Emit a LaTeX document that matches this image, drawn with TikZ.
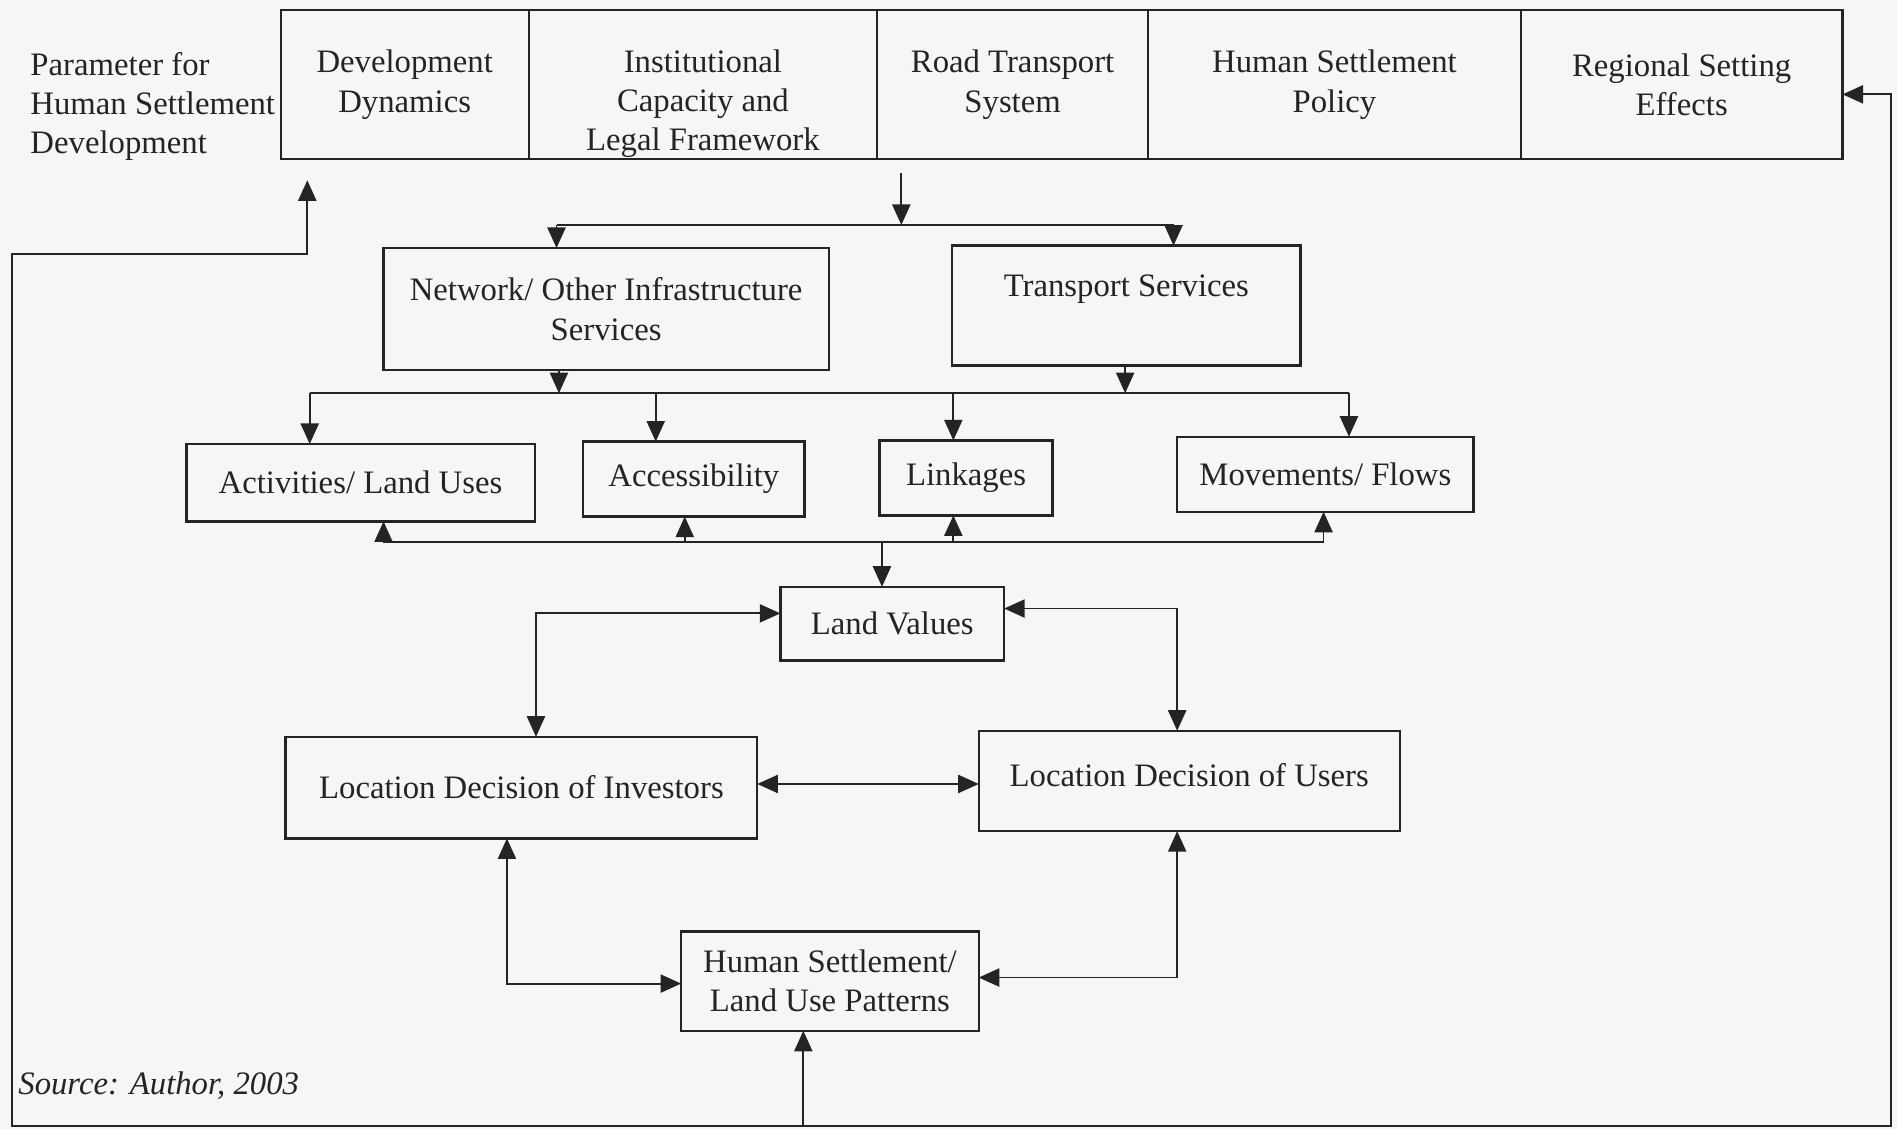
\documentclass[tikz,border=0pt]{standalone}
\usepackage{fontspec}
\setmainfont{Liberation Serif}
\usepackage{tikz}
\usetikzlibrary{arrows.meta}
\definecolor{cInk}{RGB}{36,36,36}
\definecolor{cPaper}{RGB}{246,246,246}

\begin{document}
\begin{tikzpicture}[x=0.02cm,y=-0.02cm,
  every node/.style={font=\fontsize{15.4}{18.4}\selectfont,text=cInk},
  box/.style={draw=cInk,line width=1.1pt,align=center,inner sep=0pt,outer sep=0pt},
  wire/.style={draw=cInk,line width=0.85pt},
  arr/.style={wire,-{Triangle[length=0.34cm,width=0.3cm]}},
  dbl/.style={wire,{Triangle[length=0.34cm,width=0.3cm]}-{Triangle[length=0.34cm,width=0.3cm]}}]
\fill[cPaper] (0,0) rectangle (1568,933);
\useasboundingbox (0,0) rectangle (1568,933);
% parameter row
\node[anchor=west,align=left] (par) at (19,88) {Parameter for\\Human Settlement\\Development};
\node[box,minimum width=4.10cm,minimum height=2.46cm] (dyn) at (334.5,70) {Development\\Dynamics};
\node[box,minimum width=5.76cm,minimum height=2.46cm,
  label={[align=center,yshift=-0.32cm]center:Institutional\\Capacity and\\Legal Framework}] (inst) at (581,70) {};
\node[box,minimum width=4.48cm,minimum height=2.46cm] (road) at (837,70) {Road Transport\\System};
\node[box,minimum width=6.16cm,minimum height=2.46cm] (pol) at (1103,70) {Human Settlement\\Policy};
\node[box,minimum width=5.32cm,minimum height=2.46cm] (reg) at (1390,70) {Regional Setting\\Effects};
% services
\node[box,minimum width=7.36cm,minimum height=2.02cm] (net) at (501,255.5) {Network/ Other Infrastructure\\Services};
\node[box,minimum width=5.76cm,minimum height=1.98cm] (trans) at (931,252.5) {Transport Services\\\mbox{}};
% effects
\node[box,minimum width=5.76cm,minimum height=1.28cm] (act) at (298,399) {Activities/ Land Uses};
\node[box,minimum width=3.66cm,minimum height=1.24cm] (acc) at (573.5,396) {Accessibility};
\node[box,minimum width=2.86cm,minimum height=1.24cm] (lnk) at (798.5,395) {Linkages};
\node[box,minimum width=4.90cm,minimum height=1.24cm] (mov) at (1095.5,392) {Movements/ Flows};
% land market
\node[box,minimum width=3.70cm,minimum height=1.22cm] (lv) at (737.5,515.5) {Land Values};
\node[box,minimum width=7.80cm,minimum height=1.68cm] (inv) at (431,651) {Location Decision of Investors};
\node[box,minimum width=6.96cm,minimum height=1.66cm] (usr) at (983,645.5) {Location Decision of Users\\[-13pt]\mbox{}};
\node[box,minimum width=4.92cm,minimum height=1.64cm] (hs) at (686,811) {Human Settlement/\\Land Use Patterns};
\node[anchor=west,font=\fontsize{15.4}{18.4}\selectfont\itshape] (src) at (9,897) {Source: Author, 2003};
% first bus
\coordinate (t1) at (745,143);
\coordinate (b1) at (745,186);
\coordinate (b1l) at (460,186);
\coordinate (b1r) at (970,186);
\draw[arr] (t1) -- (b1);
\draw[wire] (b1l) -- (b1r);
\draw[arr] (b1l) -- (b1l |- net.north);
\draw[arr] (b1r) -- (b1r |- trans.north);
% second bus
\coordinate (n2) at (462,325);
\coordinate (s2) at (930,325);
\coordinate (b2l) at (256,325);
\coordinate (b2r) at (1115,325);
\draw[arr] (n2 |- net.south) -- (n2);
\draw[arr] (s2 |- trans.south) -- (s2);
\draw[wire] (b2l) -- (b2r);
\foreach \x/\n in {256/act,542/acc,788/lnk,1115/mov}
  \draw[arr] (\x,325) -- (\x,325 |- \n.north);
% third bus
\coordinate (b3) at (729,448);
\coordinate (b3l) at (317,448);
\coordinate (b3r) at (1094,448);
\draw[wire] (b3l) -- (b3r);
\foreach \x/\n in {317/act,566/acc,788/lnk,1094/mov}
  \draw[arr] (\x,448) -- (\x,448 |- \n.south);
\draw[arr] (b3) -- (b3 |- lv.north);
% land values and decisions
\coordinate (c1) at (443,507);
\coordinate (c2) at (973,503);
\coordinate (c3) at (700,648);
\coordinate (c4) at (419,813);
\coordinate (c5) at (973,808);
\draw[dbl] (lv.west |- c1) -- (c1) -- (c1 |- inv.north);
\draw[dbl] (lv.east |- c2) -- (c2) -- (c2 |- usr.north);
\draw[dbl] (inv.east |- c3) -- (usr.west |- c3);
\draw[dbl] (c4 |- inv.south) -- (c4) -- (hs.west |- c4);
\draw[dbl] (c5 |- usr.south) -- (c5) -- (hs.east |- c5);
% feedback loop
\coordinate (lp) at (664,931);
\coordinate (lpl) at (10,931);
\coordinate (lpk) at (254,210);
\coordinate (lpt) at (254,149);
\coordinate (lpr) at (1563,931);
\coordinate (lpe) at (1563,78);
\draw[arr] (lp) -- (lp |- hs.south);
\draw[arr] (lp) -- (lpl) |- (lpk) -- (lpt);
\draw[arr] (lp) -- (lpr) -- (lpe) -- (reg.east |- lpe);
\end{tikzpicture}
\end{document}
